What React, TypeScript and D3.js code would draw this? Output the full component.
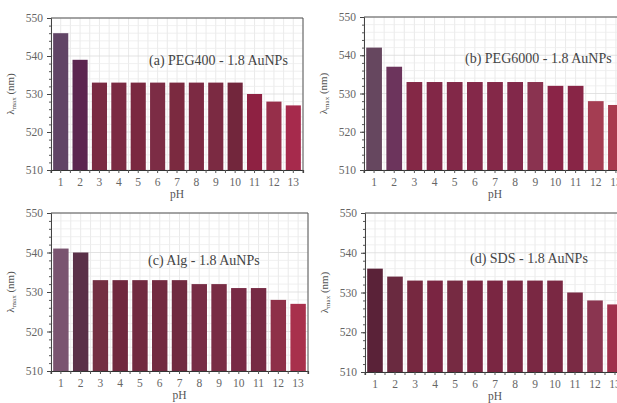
import React, { useEffect, useRef } from 'react'
import * as d3 from 'd3'

const categories = ['1', '2', '3', '4', '5', '6', '7', '8', '9', '10', '11', '12', '13']
const yTicks = [510, 520, 530, 540, 550]

const peg400Values = [546, 539, 533, 533, 533, 533, 533, 533, 533, 533, 530, 528, 527]
const peg6000Values = [542, 537, 533, 533, 533, 533, 533, 533, 533, 532, 532, 528, 527]
const algValues = [541, 540, 533, 533, 533, 533, 533, 532, 532, 531, 531, 528, 527]
const sdsValues = [536, 534, 533, 533, 533, 533, 533, 533, 533, 533, 530, 528, 527]

// bar colours (the colour of each solution)
const peg400Colors = ['#614566', '#5c2550', '#7a2a42', '#7b2a43', '#7a2840', '#7c2c45', '#7b2a40', '#7c2a43', '#7b2a42', '#72263c', '#8e2142', '#962f4a', '#a62a4c']
const peg6000Colors = ['#66475f', '#6c345c', '#842846', '#822747', '#822848', '#842849', '#842848', '#82284a', '#8a3350', '#8a2447', '#882546', '#a43d52', '#a83a4e']
const algColors = ['#7a5470', '#5a3048', '#732f42', '#70283e', '#712a40', '#722a40', '#702a40', '#772c45', '#782c44', '#782a45', '#762a44', '#8e3048', '#a8304c']
const sdsColors = ['#5a2238', '#6a2a40', '#762840', '#7a2542', '#762a42', '#7a2642', '#7a2642', '#7a2843', '#7a2843', '#7a2843', '#7a2a44', '#8a3550', '#a0304c']

const panels = [
  { values: peg400Values, colors: peg400Colors, title: '(a) PEG400 - 1.8 AuNPs', left: 51, top: 18, right: 303, bottom: 170, titleX: 149, titleY: 65 },
  { values: peg6000Values, colors: peg6000Colors, title: '(b) PEG6000 - 1.8 AuNPs', left: 364, top: 17, right: 626, bottom: 170, titleX: 465, titleY: 63 },
  { values: algValues, colors: algColors, title: '(c) Alg - 1.8 AuNPs', left: 51, top: 213, right: 308, bottom: 371, titleX: 148, titleY: 265 },
  { values: sdsValues, colors: sdsColors, title: '(d) SDS - 1.8 AuNPs', left: 365, top: 213, right: 625, bottom: 372, titleX: 470, titleY: 263 },
]

const font = "'Liberation Serif', 'DejaVu Serif', serif"

const App = () => {
  const svgRef = useRef<SVGSVGElement>(null)

  useEffect(() => {
    const svg = d3.select(svgRef.current)
    svg.selectAll('*').remove()

    panels.forEach(p => {
      const g = svg.append('g').style('font-family', font)

      const x = d3
        .scaleBand()
        .domain(categories)
        .range([p.left, p.right])
        .paddingInner(0.22)
        .paddingOuter(0.11)

      const y = d3.scaleLinear().domain([510, 550]).range([p.bottom, p.top])

      const step = x.step()
      const half = d3.range(0, categories.length * 2 + 1).map(k => p.left + (k * step) / 2)
      const minorY = d3.range(510, 551, 2)

      // grid
      g.selectAll('.vgrid')
        .data(half)
        .enter()
        .append('line')
        .attr('x1', d => d)
        .attr('x2', d => d)
        .attr('y1', p.top)
        .attr('y2', p.bottom)
        .attr('stroke', '#e4e4e4')
        .attr('stroke-width', 0.8)

      g.selectAll('.hgrid')
        .data(minorY)
        .enter()
        .append('line')
        .attr('x1', p.left)
        .attr('x2', p.right)
        .attr('y1', d => y(d))
        .attr('y2', d => y(d))
        .attr('stroke', d => (d % 10 === 0 ? '#dcdcdc' : '#ececec'))
        .attr('stroke-width', 0.8)

      // bars
      g.selectAll('.bar')
        .data(p.values)
        .enter()
        .append('rect')
        .attr('x', (d, i) => x(categories[i]))
        .attr('y', d => y(d))
        .attr('width', x.bandwidth())
        .attr('height', d => y(510) - y(d))
        .attr('fill', (d, i) => p.colors[i])

      // frame top / right
      g.append('line')
        .attr('x1', p.left).attr('x2', p.right)
        .attr('y1', p.top).attr('y2', p.top)
        .attr('stroke', '#555').attr('stroke-width', 1)
      g.append('line')
        .attr('x1', p.right).attr('x2', p.right)
        .attr('y1', p.top).attr('y2', p.bottom)
        .attr('stroke', '#555').attr('stroke-width', 1)

      // y axis
      const yAxis = d3.axisLeft(y).tickValues(yTicks).tickSize(4).tickPadding(4)
      const yMinor = d3.axisLeft(y).tickValues(minorY).tickSize(2).tickFormat(() => '')

      const ya = g.append('g').attr('transform', `translate(${p.left},0)`).call(yMinor)
      ya.select('.domain').remove()
      ya.selectAll('line').attr('stroke', '#555')
      const yb = g.append('g').attr('transform', `translate(${p.left},0)`).call(yAxis)
      yb.attr('font-family', null)
      yb.select('.domain').attr('stroke', '#444')
      yb.selectAll('line').attr('stroke', '#444')
      yb.selectAll('text').style('font-family', font).attr('font-size', 11.5).attr('fill', '#666')

      // x axis
      const xAxis = d3.axisBottom(x).tickSize(3).tickPadding(5)
      const xa = g.append('g').attr('transform', `translate(0,${p.bottom})`).call(xAxis)
      xa.attr('font-family', null)
      xa.select('.domain').attr('stroke', '#333').attr('stroke-width', 1.2)
      xa.selectAll('line').attr('stroke', '#555')
      xa.selectAll('text').style('font-family', font).attr('font-size', 11.5).attr('fill', '#666')

      g.selectAll('.xminor')
        .data(half.filter((d, k) => k % 2 === 0))
        .enter()
        .append('line')
        .attr('x1', d => d)
        .attr('x2', d => d)
        .attr('y1', p.bottom)
        .attr('y2', p.bottom + 3)
        .attr('stroke', '#555')

      // axis titles
      g.append('text')
        .attr('x', (p.left + p.right) / 2)
        .attr('y', p.bottom + 28)
        .attr('text-anchor', 'middle')
        .style('font-family', font)
        .attr('font-size', 11.5)
        .attr('fill', '#555')
        .text('pH')

      const yt = g
        .append('text')
        .attr('transform', `translate(${p.left - 37},${(p.top + p.bottom) / 2}) rotate(-90)`)
        .attr('text-anchor', 'middle')
        .style('font-family', font)
        .attr('font-size', 11)
        .attr('fill', '#555')
      yt.append('tspan').text('λ')
      yt.append('tspan').attr('font-size', 7).attr('dy', 2).text('max')
      yt.append('tspan').attr('dy', -2).text(' (nm)')

      // panel label
      g.append('text')
        .attr('x', p.titleX)
        .attr('y', p.titleY)
        .style('font-family', font)
        .attr('font-size', 14)
        .attr('fill', '#444')
        .text(p.title)
    })
  }, [])

  return (
    <svg
      ref={svgRef}
      width={617}
      height={403}
      style={{ position: 'absolute', left: 0, top: 0, background: '#fff' }}
    />
  )
}

export default App
